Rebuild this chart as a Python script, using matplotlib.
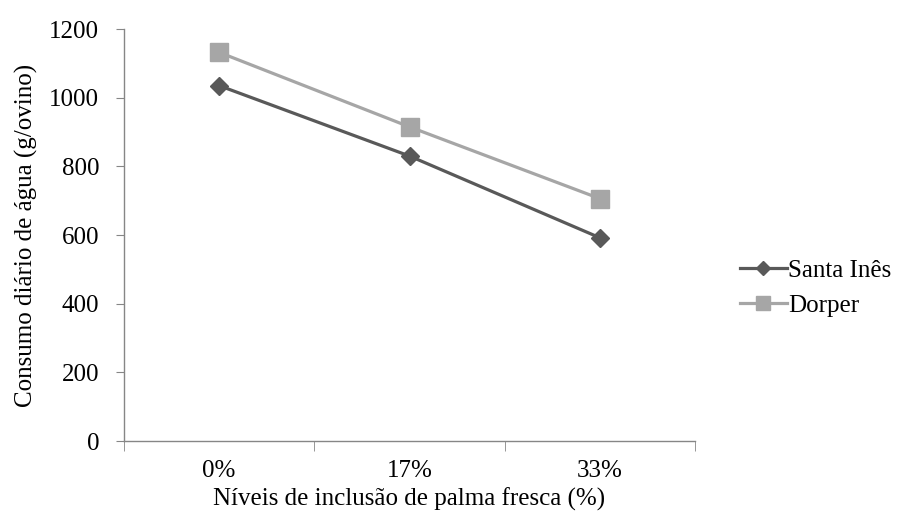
import matplotlib
matplotlib.use("Agg")
import matplotlib.pyplot as plt

categories = ["0%", "17%", "33%"]
santa_ines = [1035, 830, 592]
dorper = [1132, 915, 706]
yticks = [0, 200, 400, 600, 800, 1000, 1200]

plt.rcParams['font.family'] = ['Liberation Serif', 'DejaVu Serif']
FS = 18

fig = plt.figure(figsize=(8.97, 5.15), dpi=100)
ax = fig.add_axes([124/897, 1-441/515, (695-124)/897, (441-29)/515])

x = list(range(len(categories)))
c1, c2 = "#595959", "#A6A6A6"
l1, = ax.plot(x, santa_ines, color=c1, lw=2.3, marker="D", ms=9.5, mfc=c1, mec=c1, label="Santa Inês")
l2, = ax.plot(x, dorper, color=c2, lw=2.3, marker="s", ms=12.5, mfc=c2, mec=c2, label="Dorper")

ax.set_xlim(-0.5, len(categories) - 0.5)
ax.set_ylim(0, 1200)
ax.set_yticks(yticks)
ax.set_yticklabels([str(v) for v in yticks], fontsize=FS)
ax.set_xticks(x)
ax.set_xticklabels(categories, fontsize=FS)
ax.set_xticks([i - 0.5 for i in range(len(categories) + 1)], minor=True)
ax.tick_params(axis="x", which="major", length=0, pad=14)
ax.tick_params(axis="x", which="minor", length=7, color="#868686", direction="out")
ax.tick_params(axis="y", length=6, color="#868686", direction="out", pad=12)

for s in ["top", "right"]:
    ax.spines[s].set_visible(False)
for s in ["left", "bottom"]:
    ax.spines[s].set_color("#868686")
    ax.spines[s].set_linewidth(1)

ax.set_xlabel("Níveis de inclusão de palma fresca (%)", fontsize=FS, labelpad=4)
ax.set_ylabel("Consumo diário de água (g/ovino)", fontsize=FS, labelpad=8)

fig.legend(handles=[l1, l2], loc="center left", bbox_to_anchor=(727/897, 1-288/515),
           frameon=False, fontsize=FS, handlelength=1.9, handletextpad=0.05, labelspacing=0.5,
           borderpad=0, markerscale=0.8)

fig.savefig("out.png", dpi=100)
